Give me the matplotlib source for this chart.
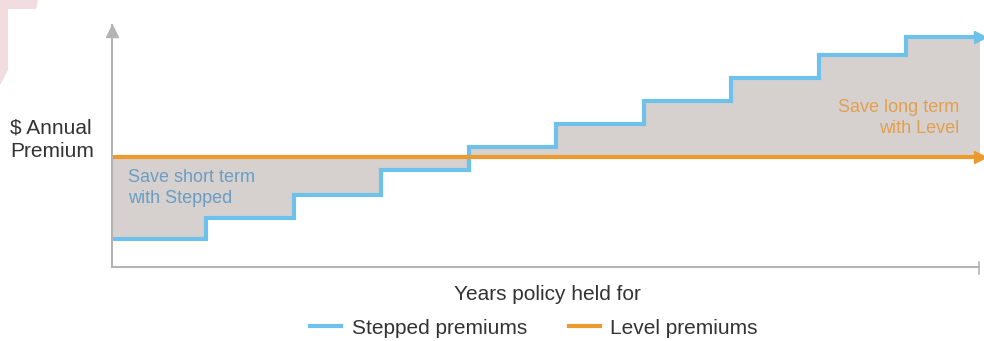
import matplotlib
matplotlib.use('Agg')
import matplotlib.pyplot as plt
from matplotlib.lines import Line2D
from matplotlib.patches import Polygon

# policy years where the stepped premium goes up (x start of each step)
step_years = [0, 1, 2, 3, 4, 5, 6, 7, 8, 9]
# stepped premium for each year band (arbitrary $ units)
stepped = [28, 49, 72, 97, 120, 143, 166, 189, 212, 230]
# level premium stays the same for whole period
level = 110

labels = ['Stepped premiums', 'Level premiums']
BLUE = '#6ec1ea'
ORANGE = '#ec9a2e'
GREY_FILL = '#d6d1ce'
AXIS_GREY = '#b4b4b4'
TXT = '#333333'

X_MIN = -0.08
X_MAX = 9.886
X_END = 9.84

plt.rcParams['font.family'] = ['Liberation Sans', 'DejaVu Sans']

fig = plt.figure(figsize=(9.84, 3.41), dpi=100)
ax = fig.add_axes([112 / 984, 74 / 341, 872 / 984, 242 / 341])

# step outline x / y
xs = [X_MIN] + step_years[1:] + [X_END]
ys = stepped + [stepped[-1]]
lv = [level] * len(xs)

ax.fill_between(xs, ys, lv, step='post', color=GREY_FILL, lw=0, zorder=1)
ax.step(xs, ys, where='post', color=BLUE, lw=3, zorder=3,
        solid_joinstyle='miter')
ax.plot([X_MIN, X_END], [level, level], color=ORANGE, lw=3, zorder=4)

# arrow heads at right end
ax.plot([X_END], [stepped[-1]], marker='>', color=BLUE, ms=9, clip_on=False, zorder=5)
ax.plot([X_END], [level], marker='>', color=ORANGE, ms=9, clip_on=False, zorder=5)

ax.set_xlim(X_MIN, X_MAX)
ax.set_ylim(0, 242)
ax.set_xticks([])
ax.set_yticks([])
for s in ['top', 'right']:
    ax.spines[s].set_visible(False)
ax.spines['left'].set_color(AXIS_GREY)
ax.spines['bottom'].set_color(AXIS_GREY)
ax.spines['left'].set_linewidth(1.5)
ax.spines['bottom'].set_linewidth(1.5)
ax.spines['left'].set_zorder(6)
ax.spines['bottom'].set_zorder(6)
ax.spines['bottom'].set_bounds(X_MIN, 9.83)

# y axis arrow
ax.plot([X_MIN], [236], marker='^', color=AXIS_GREY, ms=9, clip_on=False, zorder=6)
# small end tick on x axis
ax.plot([9.83, 9.83], [-7, 5], color=AXIS_GREY, lw=1.2, clip_on=False)

ax.text(0.103, 79, 'Save short term\nwith Stepped', color='#6a9cc4',
        fontsize=13, va='center', ha='left', linespacing=1.3, zorder=7)
ax.text(9.6, 149, 'Save long term\nwith Level', color='#e0a050',
        fontsize=13, va='center', ha='right', multialignment='right',
        linespacing=1.3, zorder=7)

fig.text(10 / 984, (341 - 140) / 341, '$ Annual\nPremium', color=TXT,
         fontsize=15, va='center', ha='left', linespacing=1.3)
fig.text(547 / 984, (341 - 295) / 341, 'Years policy held for', color=TXT,
         fontsize=15, va='center', ha='center')

handles = [Line2D([], [], color=BLUE, lw=3), Line2D([], [], color=ORANGE, lw=3)]
fig.legend(handles, labels, loc='center', bbox_to_anchor=(534 / 984, (341 - 328) / 341),
           ncol=2, frameon=False, fontsize=15, handlelength=1.5,
           handletextpad=0.5, columnspacing=2.0, labelcolor=TXT,
           borderpad=0, borderaxespad=0)

# faint pink decoration in the corner
fig.patches.append(Polygon([[0, 1], [38 / 984, 1], [36 / 984, 1 - 9 / 341],
                            [8 / 984, 1 - 9 / 341], [8 / 984, 1 - 70 / 341],
                            [0, 1 - 85 / 341]],
                           closed=True, transform=fig.transFigure,
                           facecolor='#f1dde0', edgecolor='none'))

fig.savefig('out.png', dpi=100)
